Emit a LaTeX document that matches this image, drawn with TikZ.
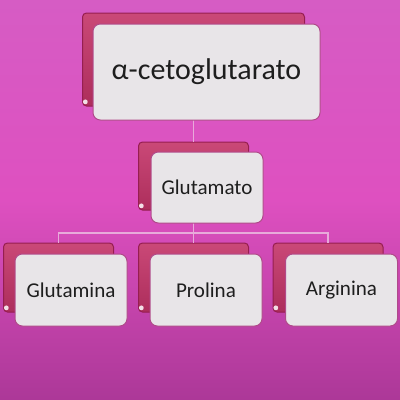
\documentclass[tikz,border=0pt]{standalone}
\usepackage{fontspec}
\setmainfont{Carlito}
\usetikzlibrary{positioning}

\definecolor{bgtop}{RGB}{214,92,196}
\definecolor{bgmid}{RGB}{222,80,192}
\definecolor{bgbot}{RGB}{172,56,152}
\definecolor{backfill}{RGB}{196,52,104}
\definecolor{backline}{RGB}{150,30,80}
\definecolor{frontfill}{RGB}{232,229,232}
\definecolor{frontline}{RGB}{176,74,138}
\definecolor{linkcol}{RGB}{232,170,218}
\definecolor{txtcol}{RGB}{30,30,30}

\tikzset{every picture/.style={line width=0.75pt}}
\tikzset{
  backbox/.style={draw=backline, top color=backfill!90!white, bottom color=backfill!88!black,
    rounded corners=3pt, inner sep=0pt},
  frontbox/.style={draw=frontline, fill=frontfill, rounded corners=5.5pt, inner sep=0pt,
    text=txtcol, font=\fontsize{15.8}{18}\selectfont},
  link/.style={draw=linkcol, line width=1.1pt},
  shine/.style={fill=white, draw=none, opacity=0.85}
}

\begin{document}
\begin{tikzpicture}[x=0.75pt,y=0.75pt,yscale=-1,xscale=1]
%background
\shade [top color=bgtop, bottom color=bgbot, middle color=bgmid] (0,0) rectangle (400,400);
\useasboundingbox (0,0) rectangle (400,400);

% back boxes
\node [backbox, minimum width=166.5pt, minimum height=69.75pt] (ketoback) at (193.5,59.5) {};
\node [backbox, minimum width=82.5pt, minimum height=51pt] (gluback) at (193.5,176) {};
\node [backbox, minimum width=82.5pt, minimum height=51.75pt] (glnback) at (58.5,277.5) {};
\node [backbox, minimum width=82.5pt, minimum height=51.75pt] (proback) at (193.5,277.5) {};
\node [backbox, minimum width=82.5pt, minimum height=51.75pt] (argback) at (328,277.5) {};

% connectors
\coordinate (bar) at (193.5,233);
\draw [link] (ketoback) -- (gluback);
\draw [link] (gluback.south) -- (bar);
\draw [link] (glnback.north) |- (bar) -| (argback.north);
\draw [link] (bar) -- (proback.north);

% highlights
\foreach \b in {ketoback,gluback,glnback,proback,argback}
  \fill [shine] ([xshift=2.5pt,yshift=-3.5pt]\b.south west) circle (1.8pt);

% front boxes
\node [frontbox, minimum width=170.25pt, minimum height=72pt, font=\fontsize{22.5}{26}\selectfont] (keto) at (206.5,72) {α-cetoglutarato};
\node [frontbox, minimum width=84pt, minimum height=53.25pt] (glu) at (207,187.5) {Glutamato};
\node [frontbox, minimum width=84pt, minimum height=54pt] (gln) at (71,290) {Glutamina};
\node [frontbox, minimum width=84pt, minimum height=54pt] (pro) at (206,290) {Prolina};
\node [frontbox, minimum width=84pt, minimum height=54pt] (arg) at (341.5,290) {Arginina};

\end{tikzpicture}
\end{document}
